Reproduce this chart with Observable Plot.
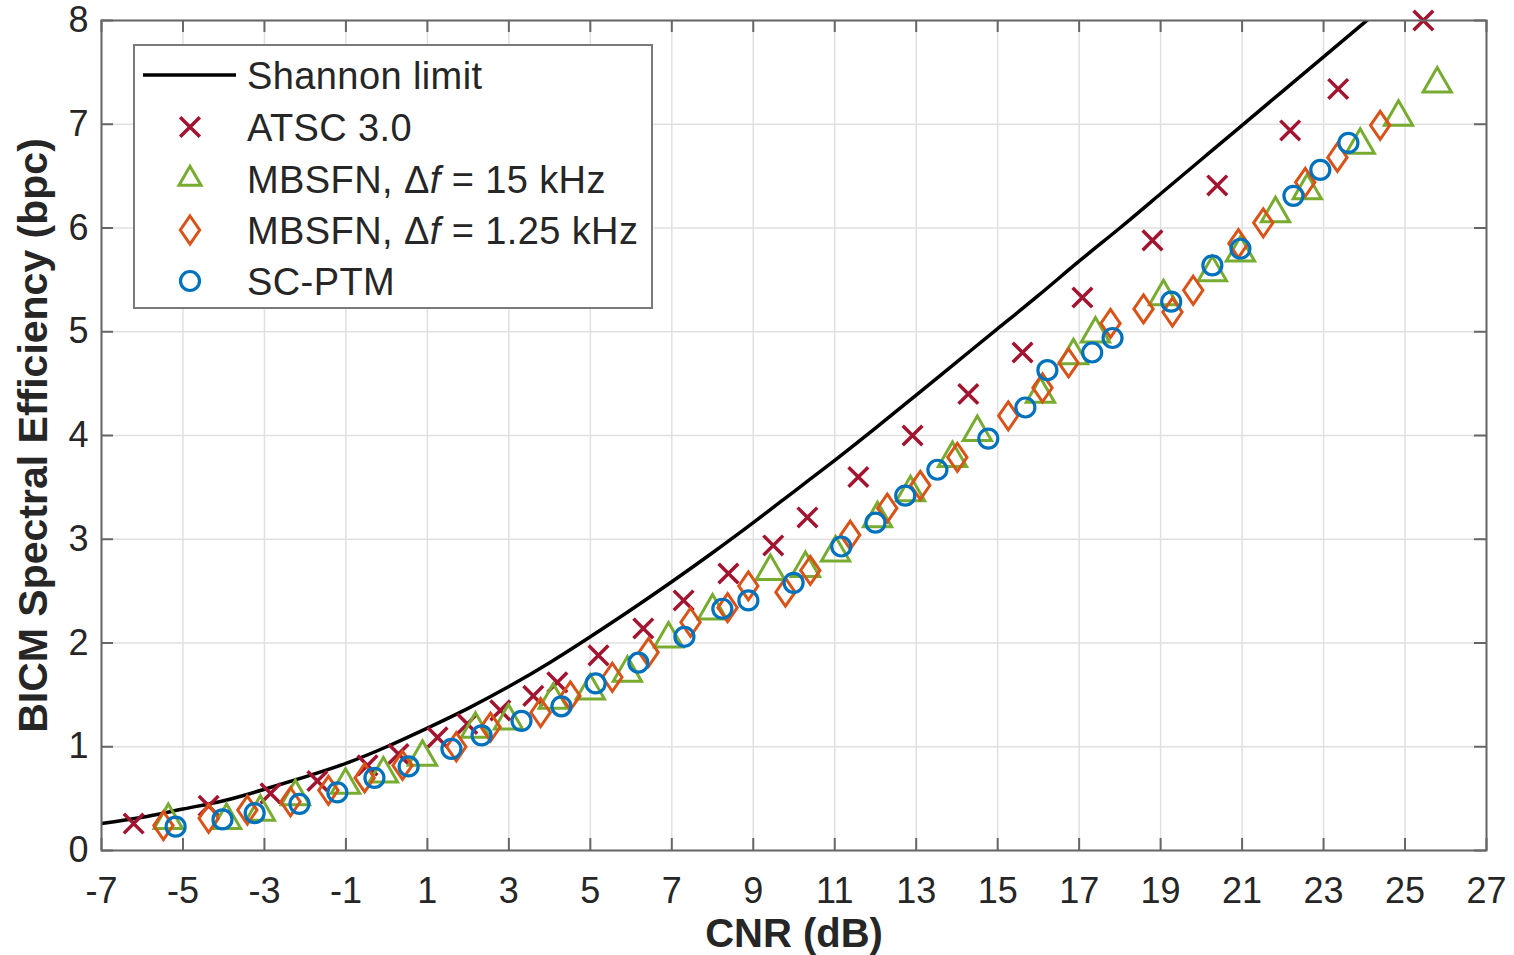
<!DOCTYPE html>
<html>
<head>
<meta charset="utf-8">
<script src="https://cdn.jsdelivr.net/npm/d3@7"></script>
<script src="https://cdn.jsdelivr.net/npm/@observablehq/plot@0.6"></script>
<style>
  html, body { margin: 0; padding: 0; background: white; }
  #wrap { position: relative; width: 1514px; height: 955px; }
  #legend { position: absolute; left: 0; top: 0; }
</style>
</head>
<body>
<div id="wrap"></div>
<script>
// ---- tick labels ----
const xTicks = [-7, -5, -3, -1, 1, 3, 5, 7, 9, 11, 13, 15, 17, 19, 21, 23, 25, 27];
const yTicks = [0, 1, 2, 3, 4, 5, 6, 7, 8];

// ---- series names ----
const seriesNames = ["Shannon limit", "ATSC 3.0", "MBSFN, Δf = 15 kHz", "MBSFN, Δf = 1.25 kHz", "SC-PTM"];

// ---- Shannon limit ----
const shannonX = [-7, -6, -5, -4, -3, -2, -1, 0, 1, 2, 3, 4, 5, 6, 7, 8, 9, 10, 11, 12, 13, 14, 15, 16, 17, 18, 19, 20, 21, 22, 23, 24, 24.1];
const shannonY = [0.26, 0.32, 0.40, 0.48, 0.59, 0.71, 0.84, 1.00, 1.18, 1.37, 1.58, 1.81, 2.06, 2.32, 2.59, 2.87, 3.16, 3.46, 3.76, 4.07, 4.39, 4.71, 5.03, 5.35, 5.68, 6.00, 6.33, 6.66, 6.99, 7.32, 7.65, 7.98, 8.01];

// ---- ATSC 3.0 ----
const atscX = [-6.21, -4.37, -2.85, -1.70, -0.47, 0.29, 1.25, 1.98, 2.79, 3.60, 4.19, 5.20, 6.30, 7.29, 8.39, 9.49, 10.33, 11.58, 12.91, 14.28, 15.61, 17.08, 18.80, 20.39, 22.18, 23.36, 25.45];
const atscY = [0.26, 0.43, 0.55, 0.67, 0.82, 0.93, 1.09, 1.22, 1.35, 1.49, 1.62, 1.88, 2.14, 2.41, 2.67, 2.94, 3.21, 3.60, 4.00, 4.40, 4.80, 5.33, 5.88, 6.41, 6.94, 7.34, 8.00];

// ---- MBSFN, Δf = 15 kHz ----
const mb15X = [-5.36, -3.93, -3.10, -2.24, -1.01, -0.08, 0.88, 2.18, 2.99, 4.09, 5.00, 5.91, 6.92, 8.00, 9.42, 10.28, 11.02, 12.05, 12.86, 13.89, 14.50, 16.05, 16.86, 17.40, 19.07, 20.27, 20.96, 21.82, 22.60, 23.90, 24.84, 25.79];
const mb15Y = [0.29, 0.29, 0.37, 0.52, 0.63, 0.74, 0.90, 1.17, 1.25, 1.45, 1.54, 1.71, 2.04, 2.31, 2.69, 2.72, 2.87, 3.20, 3.45, 3.78, 4.03, 4.40, 4.77, 4.98, 5.34, 5.57, 5.76, 6.14, 6.36, 6.80, 7.07, 7.39];

// ---- MBSFN, Δf = 1.25 kHz ----
const mb125X = [-5.48, -4.37, -3.42, -2.36, -1.43, -0.54, 0.39, 1.71, 2.55, 3.78, 4.51, 5.54, 6.43, 7.46, 8.37, 8.88, 9.79, 10.40, 11.38, 12.29, 13.10, 14.01, 15.26, 16.10, 16.74, 17.77, 18.58, 19.29, 19.80, 20.91, 21.52, 22.55, 23.34, 24.39];
const mb125Y = [0.24, 0.31, 0.39, 0.47, 0.58, 0.70, 0.82, 1.00, 1.19, 1.33, 1.49, 1.67, 1.91, 2.20, 2.34, 2.55, 2.49, 2.70, 3.04, 3.30, 3.52, 3.79, 4.19, 4.46, 4.70, 5.08, 5.22, 5.19, 5.40, 5.85, 6.05, 6.44, 6.68, 6.99];

// ---- SC-PTM ----
const scX = [-5.18, -4.03, -3.24, -2.14, -1.21, -0.30, 0.54, 1.59, 2.33, 3.31, 4.29, 5.13, 6.18, 7.31, 8.24, 8.88, 9.99, 11.16, 12.00, 12.73, 13.52, 14.77, 15.68, 16.22, 17.32, 17.82, 19.26, 20.27, 20.96, 22.26, 22.92, 23.61];
const scY = [0.23, 0.30, 0.36, 0.45, 0.56, 0.70, 0.81, 0.98, 1.11, 1.25, 1.39, 1.61, 1.81, 2.06, 2.33, 2.41, 2.58, 2.93, 3.16, 3.42, 3.67, 3.97, 4.27, 4.63, 4.80, 4.94, 5.29, 5.64, 5.80, 6.31, 6.56, 6.82];

const colors = { shannon: "#000000", atsc: "#a2142f", mb15: "#77ac30", mb125: "#d95319", sc: "#0072bd" };

const zip = (xs, ys) => xs.map((x, i) => ({ x, y: ys[i] }));
const shannon = zip(shannonX, shannonY);
const atsc = zip(atscX, atscY);
const mb15 = zip(mb15X, mb15Y);
const mb125 = zip(mb125X, mb125Y);
const sc = zip(scX, scY);

// tall rhombus like MATLAB's diamond marker
const tallDiamond = {
  draw(context, size) {
    const r = Math.sqrt(size / Math.PI);
    const w = r * 0.69;
    context.moveTo(0, -r);
    context.lineTo(w, 0);
    context.lineTo(0, r);
    context.lineTo(-w, 0);
    context.closePath();
  }
};

const W = 1514, H = 955;
const mL = 101, mR = 28, mT = 20, mB = 105;
const innerW = W - mL - mR, innerH = H - mT - mB;
const tickLen = 12;
const axisColor = "#666666";
const font = "'Liberation Sans', Arial, Helvetica, sans-serif";

const sym = {
  atsc: { r: 9, sw: 3.5 },
  mb15: { r: 10.5, sw: 3 },
  mb125: { r: 14, sw: 3 },
  sc: { r: 9.5, sw: 3.2 }
};

const chart = Plot.plot({
  width: W,
  height: H,
  marginLeft: mL,
  marginRight: mR,
  marginTop: mT,
  marginBottom: mB,
  style: { fontFamily: font, background: "white", color: "#262626" },
  x: { domain: [-7, 27], label: null },
  y: { domain: [0, 8], label: null },
  marks: [
    Plot.gridX(xTicks, { stroke: "#e0e0e0", strokeOpacity: 1, strokeWidth: 1.5 }),
    Plot.gridY(yTicks, { stroke: "#e0e0e0", strokeOpacity: 1, strokeWidth: 1.5 }),
    Plot.line(shannon, { x: "x", y: "y", stroke: colors.shannon, strokeWidth: 3.5, curve: "natural", clip: true }),
    Plot.dot(atsc, { x: "x", y: "y", symbol: "times", r: sym.atsc.r, stroke: colors.atsc, strokeWidth: sym.atsc.sw }),
    Plot.dot(mb15, { x: "x", y: "y", symbol: "triangle", r: sym.mb15.r, stroke: colors.mb15, strokeWidth: sym.mb15.sw }),
    Plot.dot(mb125, { x: "x", y: "y", symbol: tallDiamond, r: sym.mb125.r, stroke: colors.mb125, strokeWidth: sym.mb125.sw }),
    Plot.dot(sc, { x: "x", y: "y", symbol: "circle", r: sym.sc.r, stroke: colors.sc, strokeWidth: sym.sc.sw }),
    Plot.frame({ stroke: axisColor, strokeWidth: 2 }),
    Plot.tickX(xTicks, { x: d => d, insetTop: innerH - tickLen, stroke: axisColor, strokeWidth: 2 }),
    Plot.tickX(xTicks, { x: d => d, insetBottom: innerH - tickLen, stroke: axisColor, strokeWidth: 2 }),
    Plot.tickY(yTicks, { y: d => d, insetRight: innerW - tickLen, stroke: axisColor, strokeWidth: 2 }),
    Plot.tickY(yTicks, { y: d => d, insetLeft: innerW - tickLen, stroke: axisColor, strokeWidth: 2 }),
    Plot.axisX(xTicks, { tickSize: 0, tickPadding: 27, fontSize: 36, tickFormat: d => String(d), label: null, fill: "#262626" }),
    Plot.axisY(yTicks, { tickSize: 0, tickPadding: 13, fontSize: 36, tickFormat: d => String(d), label: null, fill: "#262626" }),
    Plot.text(["CNR (dB)"], { frameAnchor: "bottom", lineAnchor: "middle", dy: 84, fontSize: 40, fontWeight: "bold", fill: "#262626" }),
    Plot.text(["BICM Spectral Efficiency (bpc)"], { frameAnchor: "left", textAnchor: "middle", lineAnchor: "middle", dx: -68, dy: 0, rotate: -90, fontSize: 41, fontWeight: "bold", fill: "#262626" })
  ]
});

const wrap = document.getElementById("wrap");
wrap.appendChild(chart);

// ---- legend overlay ----
const leg = d3.select(wrap).append("svg")
  .attr("id", "legend")
  .attr("width", W).attr("height", H)
  .style("font-family", font);

const box = { x: 134, y: 45, w: 518, h: 263 };
leg.append("rect")
  .attr("x", box.x).attr("y", box.y).attr("width", box.w).attr("height", box.h)
  .attr("fill", "white").attr("stroke", "#7a7a7a").attr("stroke-width", 2);

const rowY = [75, 127, 179, 230, 281];
const symX = 190;
const textX = 247;

leg.append("line").attr("x1", 143).attr("x2", 236).attr("y1", rowY[0]).attr("y2", rowY[0])
  .attr("stroke", colors.shannon).attr("stroke-width", 3.5);

const symDefs = [
  { type: d3.symbolTimes, s: sym.atsc, color: colors.atsc },
  { type: d3.symbolTriangle2, s: sym.mb15, color: colors.mb15 },
  { type: tallDiamond, s: sym.mb125, color: colors.mb125 },
  { type: d3.symbolCircle, s: sym.sc, color: colors.sc }
];
symDefs.forEach((d, i) => {
  leg.append("path")
    .attr("d", d3.symbol(d.type, Math.PI * d.s.r * d.s.r)())
    .attr("transform", `translate(${symX},${rowY[i + 1]})`)
    .attr("fill", "none").attr("stroke", d.color).attr("stroke-width", d.s.sw);
});

seriesNames.forEach((name, i) => {
  const t = leg.append("text")
    .attr("x", textX).attr("y", rowY[i]).attr("dy", "0.36em")
    .attr("font-size", 38).attr("letter-spacing", "0.4px").attr("fill", "#262626");
  if (name.includes("Δf")) {
    const [a, b] = name.split("Δf");
    t.append("tspan").text(a + "Δ");
    t.append("tspan").attr("font-style", "italic").text("f");
    t.append("tspan").text(b);
  } else {
    t.text(name);
  }
});
</script>
</body>
</html>
